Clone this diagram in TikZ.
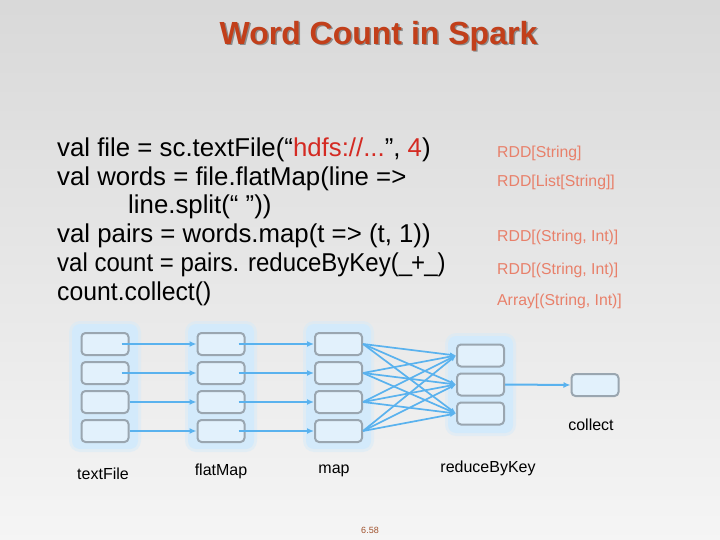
\documentclass[tikz,border=0pt]{standalone}
\usepackage{graphicx}
\usepackage{fontspec}
\setmainfont{Liberation Sans}
\usetikzlibrary{arrows.meta,calc}
\definecolor{titlecol}{HTML}{C23F1A}
\definecolor{rddcol}{HTML}{E8806A}
\definecolor{hdfscol}{HTML}{D42A22}
\definecolor{boxfill}{HTML}{E2F1FC}
\definecolor{boxdraw}{HTML}{9AA6B0}
\definecolor{glowcol}{HTML}{D3EAFB}
\definecolor{arrcol}{HTML}{5AB2EE}
\definecolor{pagecol}{HTML}{A0522D}
\tikzset{
  box/.style={draw=boxdraw,fill=boxfill,line width=2pt,rounded corners=4pt,minimum width=47pt,minimum height=22pt,inner sep=0pt},
  glow/.style={fill=glowcol,rounded corners=8pt},
  glowout/.style={fill=glowcol,opacity=0.45,rounded corners=11pt},
  arr/.style={draw=arrcol,line width=2pt,-{Latex[length=7pt,width=6pt]}},
  xarr/.style={draw=arrcol,line width=1.7pt,-{Latex[length=6pt,width=5pt]}},
  codetxt/.style={anchor=west,font=\fontsize{25.8}{29}\selectfont,inner sep=0pt},
  rddtxt/.style={anchor=west,text=rddcol,font=\fontsize{15.8}{18}\selectfont,inner sep=0pt},
  lbl/.style={font=\fontsize{16}{18}\selectfont,inner sep=0pt}
}
\begin{document}
\begin{tikzpicture}[x=1pt,y=-1pt]
\useasboundingbox (0,0) rectangle (720,540);
\shade[top color=black!15,bottom color=black!4] (0,0) rectangle (720,540);
% title
\node[font=\fontsize{32}{36}\selectfont\bfseries,text=black!45] at (380,37.5) {Word Count in Spark};
\node (title) [font=\fontsize{32}{36}\selectfont\bfseries,text=titlecol] at (378.5,36) {Word Count in Spark};
% code
\node (c1) [codetxt] at (57,150) {val file = sc.textFile(“\textcolor{hdfscol}{hdfs://...}”, \textcolor{hdfscol}{4})};
\node (c2) [codetxt] at (57,179) {val words = file.flatMap(line =>};
\node (c3) [codetxt] at (128,207) {line.split(“ ”))};
\node (c4) [codetxt] at (57,236) {val pairs = words.map(t => (t, 1))};
\node (c5) [codetxt] at (57,265) {\scalebox{0.93}[1]{val count = pairs. reduceByKey(\_\kern-1pt+\kern-1pt\_)}};
\node (c6) [codetxt] at (57,294) {\scalebox{0.96}[1]{count.collect()}};
% types
\node (r1) [rddtxt] at (497,153) {RDD[String]};
\node (r2) [rddtxt] at (497,182) {RDD[List[String]]};
\node (r3) [rddtxt] at (497,237) {RDD[(String, Int)]};
\node (r4) [rddtxt] at (497,270) {RDD[(String, Int)]};
\node (r5) [rddtxt] at (497,301) {Array[(String, Int)]};
% glows
\foreach \xa/\xb/\ya/\yb in {72/138/324/449, 188/254/324/449, 306/371/324/449, 448/513/336/433}{
  \fill[glowout] (\xa-3,\ya-3) rectangle (\xb+3,\yb+3);
  \fill[glow] (\xa,\ya) rectangle (\xb,\yb);
}
% columns
\foreach \i/\y in {1/344,2/373,3/402,4/431}{
  \node (a\i) [box] at (105,\y) {};
  \node (b\i) [box] at (221,\y) {};
  \node (m\i) [box] at (338.5,\y) {};
}
\foreach \i/\y in {1/355.5,2/384.5,3/413.5}{
  \node (k\i) [box] at (480.5,\y) {};
}
\node (col) [box] at (595,385) {};
% arrows
\draw[arr] ($(a1.east)+(-8,0)$) -- (b1.west);
\draw[arr] ($(a2.east)+(-8,0)$) -- (b2.west);
\draw[arr] (a3.east) -- (b3.west);
\draw[arr] (a4.east) -- (b4.west);
\foreach \i in {1,...,4}{
  \draw[arr] ($(b\i.east)+(-7,0)$) -- (m\i.west);
  \foreach \j in {1,2,3}{
    \draw[xarr] (m\i.east) -- (k\j.west);
  }
}
\draw[arr] (k2.east) -- (col.west);
% labels
\node (l1) [lbl] at (103,474) {textFile};
\node (l2) [lbl] at (221,471) {flatMap};
\node (l3) [lbl] at (334,471) {map};
\node (l4) [lbl] at (488,468) {reduceByKey};
\node (l5) [lbl] at (591,425) {collect};
\node (pg) [font=\fontsize{9}{10}\selectfont,text=pagecol] at (370,530) {6.58};
\end{tikzpicture}
\end{document}
